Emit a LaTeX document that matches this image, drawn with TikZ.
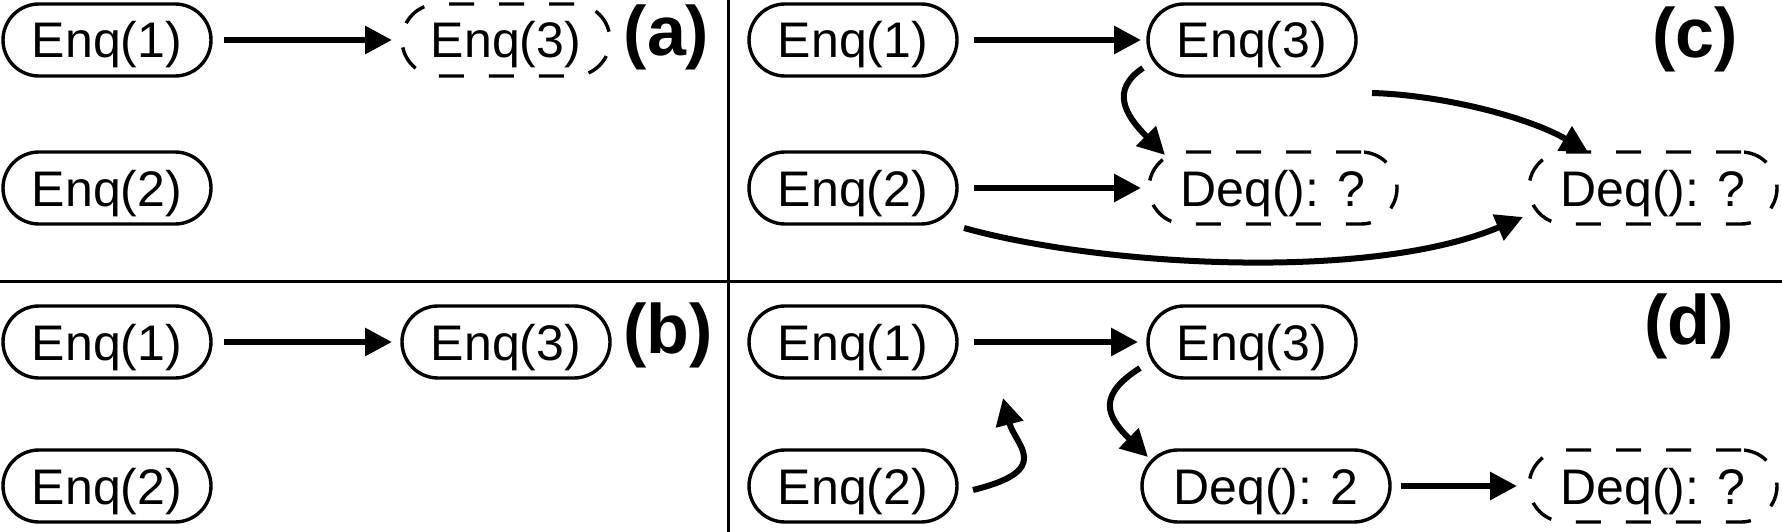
\documentclass[tikz,border=0pt]{standalone}
\usepackage{fontspec}
\setmainfont{Liberation Sans}
\usetikzlibrary{arrows.meta}
\newcommand\opfont{\fontsize{50pt}{60pt}\selectfont}
\newcommand\lblfont{\fontsize{70pt}{84pt}\selectfont\bfseries}
\tikzset{
  op/.style={draw, line width=3.4pt, rounded corners=36pt, minimum height=72pt,
    inner sep=0pt, outer sep=0pt, text height=36pt, text depth=0pt, font=\opfont},
  enq/.style={op, minimum width=208pt},
  deq/.style={op, minimum width=248pt},
  pend/.style={dash pattern=on 25pt off 25pt},
  arr/.style={line width=6pt, -{Triangle[length=27pt,width=27pt]}},
  lbl/.style={font=\lblfont, anchor=base, inner sep=0pt},
  divider/.style={line width=3pt}
}
\begin{document}
\begin{tikzpicture}[x=1pt,y=-1pt]
\useasboundingbox (0,0) rectangle (1782,532);
\fill[white] (0,0) rectangle (1782,532);
% dividers
\draw[divider] (728,0) -- (728,532);
\draw[divider] (0,281) -- (1782,281);
% panel (a)
\node[enq] (A1) at (107,40) {Enq(1)};
\node[enq,pend] (A3) at (506,40) {Enq(3)};
\node[enq] (A2) at (107,188) {Enq(2)};
\node[lbl] (La) at (666.5,56) {(a)};
\draw[arr, shorten <=13pt, shorten >=10pt] (A1) -- (A3);
% panel (b)
\node[enq] (B1) at (107,342) {Enq(1)};
\node[enq] (B3) at (506,342) {Enq(3)};
\node[enq] (B2) at (107,486) {Enq(2)};
\node[lbl] (Lb) at (668,353) {(b)};
\draw[arr, shorten <=13pt, shorten >=10pt] (B1) -- (B3);
% panel (c)
\node[enq] (C1) at (853,40) {Enq(1)};
\node[enq] (C3) at (1252,40) {Enq(3)};
\node[enq] (C2) at (853,188) {Enq(2)};
\node[deq,pend] (CD1) at (1273,188) {Deq(): ?};
\node[deq,pend] (CD2) at (1653,188) {Deq(): ?};
\node[lbl] (Lc) at (1695,58) {(c)};
\draw[arr, shorten <=17pt, shorten >=7pt] (C1) -- (C3);
\draw[arr, shorten <=17pt, shorten >=8pt] (C2) -- (CD1);
\draw[arr] ([shift={(-5,-8)}]C3.south west) .. controls +(-33,22) and +(-40,-40) .. ([shift={(16,3)}]CD1.north west);
\draw[arr] ([shift={(16,17)}]C3.south east) .. controls +(70,2) and +(-60,-35) .. ([shift={(-65,0)}]CD2.north);
\draw[arr] ([shift={(7,4)}]C2.south east) .. controls +(136,38) and +(-153,65) .. ([shift={(-6,-7)}]CD2.south west);
% panel (d)
\node[enq] (D1) at (853,342) {Enq(1)};
\node[enq] (D3) at (1252,342) {Enq(3)};
\node[enq] (D2) at (853,486) {Enq(2)};
\node[deq] (DD1) at (1266,486) {Deq(): 2};
\node[deq,pend] (DD2) at (1653,486) {Deq(): ?};
\node[lbl] (Ld) at (1689,344) {(d)};
\coordinate (dmid) at (1003,398);
\draw[arr, shorten <=17pt, shorten >=10pt] (D1) -- (D3);
\draw[arr, shorten <=11pt, shorten >=12pt] (DD1) -- (DD2);
\draw[arr] ([shift={(-8,-10)}]D3.south west) .. controls +(-42,27) and +(-43,-42) .. ([shift={(6,7)}]DD1.north west);
\draw[arr] ([shift={(16,4)}]D2.east) .. controls +(82,-20) and +(12,47) .. (dmid);
\end{tikzpicture}
\end{document}
